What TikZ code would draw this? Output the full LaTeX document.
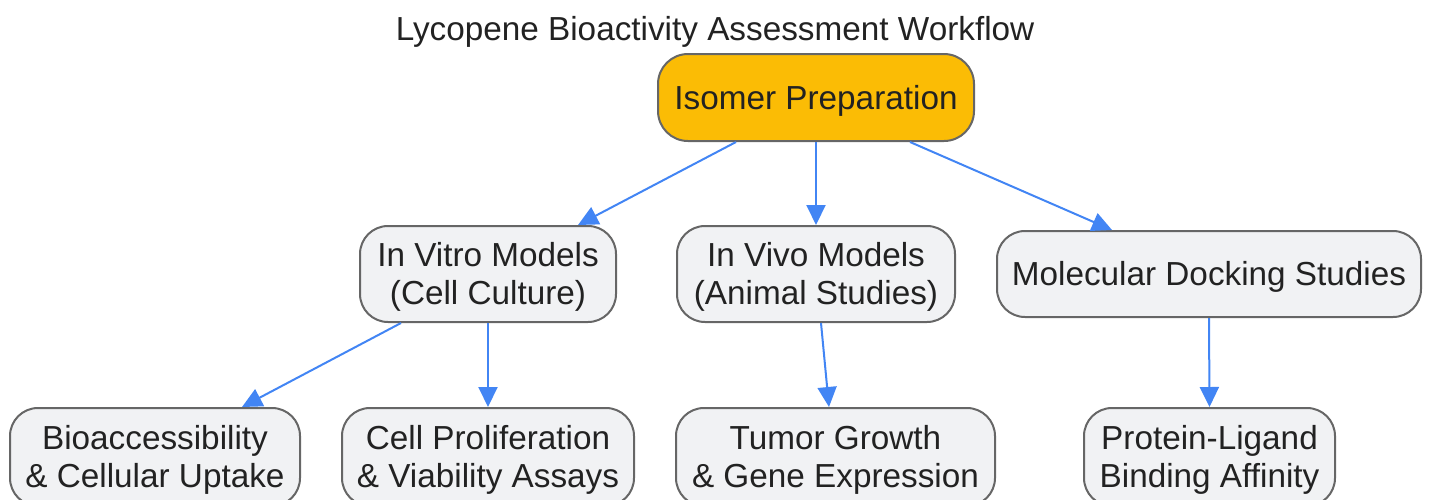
\documentclass[tikz,border=0pt]{standalone}
\usepackage{fontspec}
\setmainfont{Liberation Sans}
\usetikzlibrary{arrows.meta}
\definecolor{boxfill}{HTML}{F1F2F4}
\definecolor{boxline}{HTML}{666666}
\definecolor{topfill}{HTML}{FBBC05}
\definecolor{arrowblue}{HTML}{4285F4}
\definecolor{txt}{HTML}{222222}
\tikzset{
  box/.style={draw=boxline, line width=2pt, fill=boxfill, rounded corners=28pt, inner sep=0pt},
  lbl/.style={align=center, text=txt, font=\fontsize{33.3}{38}\selectfont, inner sep=0pt},
  conn/.style={draw=arrowblue, line width=2pt, -{Triangle[length=20pt,width=19pt]}},
}
\begin{document}
\begin{tikzpicture}[x=1pt,y=-1pt]
\useasboundingbox (0,0) rectangle (1429,499);
\clip (0,0) rectangle (1429,499);
\node[lbl] (title) at (715,31.5) {Lycopene Bioactivity Assessment Workflow};
\node[box, fill=topfill, minimum width=316pt, minimum height=87pt, rounded corners=30pt] (iso) at (816,97.5) {};
\node[box, minimum width=256pt, minimum height=96pt] (vitro) at (488,274) {};
\node[box, minimum width=278pt, minimum height=96pt] (vivo) at (816,274) {};
\node[box, minimum width=424pt, minimum height=86pt] (dock) at (1209,274) {};
\node[box, minimum width=290pt, minimum height=98pt] (bio) at (155,457) {};
\node[box, minimum width=292pt, minimum height=98pt] (prol) at (488,457) {};
\node[box, minimum width=319pt, minimum height=98pt] (tumor) at (835.5,457) {};
\node[box, minimum width=251pt, minimum height=98pt] (prot) at (1209.5,457) {};
\node[lbl] (isoT) at ([yshift=-3pt]iso.center) {Isomer Preparation};
\node[lbl] (vitroT) at ([yshift=-3pt]vitro.center) {In Vitro Models\\(Cell Culture)};
\node[lbl] (vivoT) at ([yshift=-3pt]vivo.center) {In Vivo Models\\(Animal Studies)};
\node[lbl] (dockT) at ([yshift=-3pt]dock.center) {Molecular Docking Studies};
\node[lbl] (bioT) at ([yshift=-3pt]bio.center) {Bioaccessibility\\\&{} Cellular Uptake};
\node[lbl] (prolT) at ([yshift=-3pt]prol.center) {Cell Proliferation\\\&{} Viability Assays};
\node[lbl] (tumorT) at ([yshift=-3pt]tumor.center) {Tumor Growth\\\&{} Gene Expression};
\node[lbl] (protT) at ([yshift=-3pt]prot.center) {Protein-Ligand\\Binding Affinity};
\draw[conn] ([xshift=-80pt]iso.south) -- ([xshift=90pt]vitro.north);
\draw[conn] (iso.south) -- (vivo.north);
\draw[conn] ([xshift=94pt]iso.south) -- ([xshift=-97pt]dock.north);
\draw[conn] ([xshift=-87pt]vitro.south) -- ([xshift=87pt]bio.north);
\draw[conn] (vitro.south) -- (prol.north);
\draw[conn] ([xshift=5pt]vivo.south) -- ([xshift=-6.5pt]tumor.north);
\draw[conn] (dock.south) -- (prot.north);
\end{tikzpicture}
\end{document}
